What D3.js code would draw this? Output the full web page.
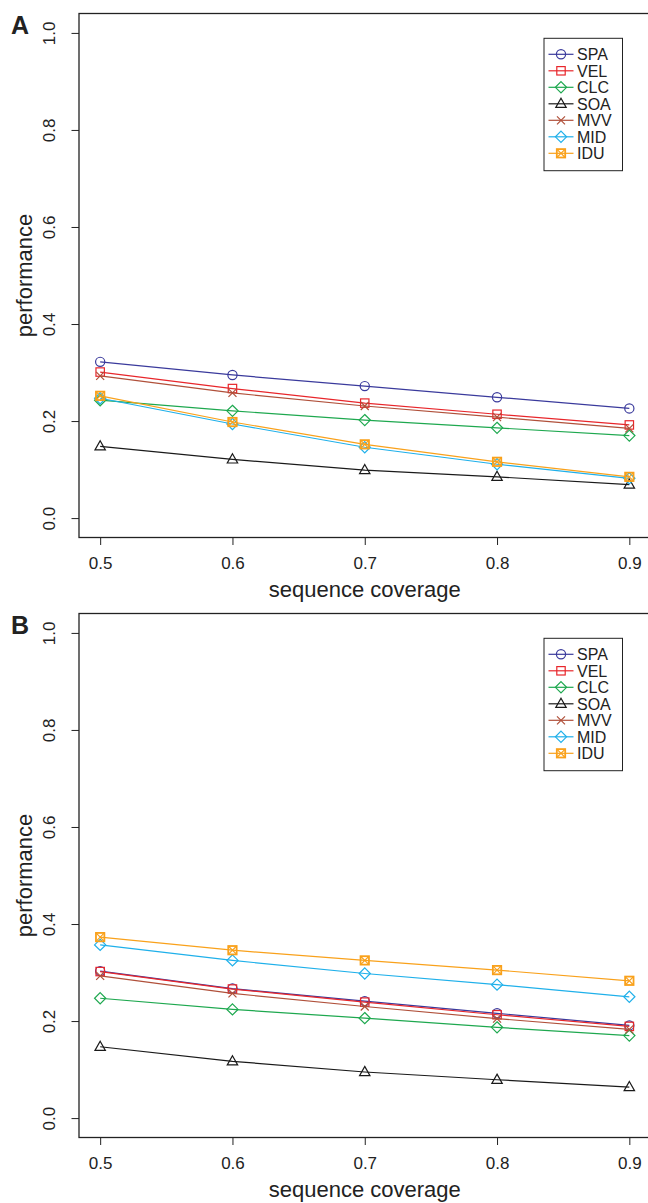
<!DOCTYPE html>
<html>
<head>
<meta charset="utf-8">
<script src="https://cdn.jsdelivr.net/npm/d3@7"></script>
<style>
  html, body { margin: 0; padding: 0; background: #fff; }
  svg { display: block; }
  text { font-family: "Liberation Sans", Arial, Helvetica, sans-serif; fill: #222; }
</style>
</head>
<body>
<svg id="chart" width="648" height="1203"></svg>
<script>
// x positions shared by both panels
const coverage = [0.5, 0.6, 0.7, 0.8, 0.9];
const xTicks = [0.5, 0.6, 0.7, 0.8, 0.9];
const yTicks = [0.0, 0.2, 0.4, 0.6, 0.8, 1.0];

const methods = ["SPA", "VEL", "CLC", "SOA", "MVV", "MID", "IDU"];
const methodColors = ["#3a3a9c", "#e8262b", "#1ea84f", "#1a1a1a", "#b0503a", "#1fb0ea", "#f9a11b"];
const methodShapes = ["circle", "square", "diamond", "triangle", "cross", "diamond", "squarecross"];

// panel A performance per method
const spaA = [0.322, 0.295, 0.272, 0.249, 0.226];
const velA = [0.301, 0.267, 0.237, 0.214, 0.192];
const clcA = [0.243, 0.221, 0.202, 0.186, 0.170];
const soaA = [0.148, 0.121, 0.099, 0.085, 0.069];
const mvvA = [0.293, 0.258, 0.231, 0.208, 0.185];
const midA = [0.247, 0.194, 0.146, 0.111, 0.082];
const iduA = [0.252, 0.198, 0.152, 0.116, 0.085];

// panel B performance per method
const spaB = [0.303, 0.267, 0.241, 0.216, 0.191];
const velB = [0.302, 0.266, 0.239, 0.213, 0.189];
const clcB = [0.247, 0.224, 0.206, 0.187, 0.170];
const soaB = [0.147, 0.117, 0.095, 0.079, 0.064];
const mvvB = [0.293, 0.257, 0.230, 0.205, 0.183];
const midB = [0.357, 0.325, 0.298, 0.275, 0.250];
const iduB = [0.373, 0.346, 0.325, 0.305, 0.283];

const panels = [
  { label: "A", top: 0, series: [spaA, velA, clcA, soaA, mvvA, midA, iduA] },
  { label: "B", top: 600, series: [spaB, velB, clcB, soaB, mvvB, midB, iduB] }
];

const svg = d3.select("#chart");

// plot region geometry (R-style 4% padding around the data range)
const plotLeft = 79, plotRight = 650.5, plotTop = 13.5, plotBottom = 537.5;

const x = d3.scaleLinear().domain([0.484, 0.916]).range([plotLeft, plotRight]);
const y = d3.scaleLinear().domain([-0.04, 1.04]).range([plotBottom, plotTop]);

function drawMarker(g, shape, color) {
  const s = g.append("g").attr("fill", "none").attr("stroke", color).attr("stroke-width", 1.2);
  if (shape === "circle") {
    s.append("circle").attr("r", 4.6);
  } else if (shape === "square") {
    s.append("rect").attr("x", -4.2).attr("y", -4.2).attr("width", 8.4).attr("height", 8.4);
  } else if (shape === "diamond") {
    s.append("path").attr("d", "M0,-5.6L5.6,0L0,5.6L-5.6,0Z");
  } else if (shape === "triangle") {
    s.append("path").attr("d", "M0,-5.6L5.2,3.6L-5.2,3.6Z");
  } else if (shape === "cross") {
    s.append("path").attr("d", "M-4,-4L4,4M-4,4L4,-4");
  } else if (shape === "squarecross") {
    s.append("rect").attr("x", -4.2).attr("y", -4.2).attr("width", 8.4).attr("height", 8.4)
      .attr("stroke-width", 1.8);
    s.append("path").attr("d", "M-4.2,-4.2L4.2,4.2M-4.2,4.2L4.2,-4.2");
  }
}

panels.forEach(p => {
  const g = svg.append("g").attr("transform", `translate(0,${p.top})`);

  // series lines and markers
  const line = d3.line().x((d, i) => x(coverage[i])).y(d => y(d));
  p.series.forEach((vals, k) => {
    const sg = g.append("g");
    sg.append("path")
      .attr("d", line(vals))
      .attr("fill", "none")
      .attr("stroke", methodColors[k])
      .attr("stroke-width", 1.2);
    vals.forEach((v, i) => {
      const m = sg.append("g").attr("transform", `translate(${x(coverage[i])},${y(v)})`);
      drawMarker(m, methodShapes[k], methodColors[k]);
    });
  });

  // frame
  g.append("rect")
    .attr("x", plotLeft).attr("y", plotTop)
    .attr("width", plotRight - plotLeft).attr("height", plotBottom - plotTop)
    .attr("fill", "none").attr("stroke", "#222").attr("stroke-width", 1.3);

  // x axis
  const xa = g.append("g")
    .attr("transform", `translate(0,${plotBottom})`)
    .call(d3.axisBottom(x).tickValues(xTicks).tickFormat(d3.format(".1f")).tickSize(7.5));
  xa.select(".domain").remove();
  xa.selectAll("line").attr("stroke", "#222").attr("stroke-width", 1);
  xa.selectAll("text")
    .attr("y", 31).attr("dy", 0)
    .style("font-size", "17px").style("font-family", "Liberation Sans, Arial, sans-serif")
    .attr("fill", "#222");

  // y axis
  const ya = g.append("g")
    .attr("transform", `translate(${plotLeft},0)`)
    .call(d3.axisLeft(y).tickValues(yTicks).tickFormat(d3.format(".1f")).tickSize(7.5));
  ya.select(".domain").remove();
  ya.selectAll("line").attr("stroke", "#222").attr("stroke-width", 1);
  ya.selectAll("text")
    .attr("x", 0).attr("y", -24).attr("dy", 0)
    .attr("transform", "rotate(-90)")
    .attr("text-anchor", "middle")
    .style("font-size", "17px").style("font-family", "Liberation Sans, Arial, sans-serif")
    .attr("fill", "#222");

  // axis titles
  g.append("text")
    .attr("x", (plotLeft + plotRight) / 2).attr("y", 597)
    .attr("text-anchor", "middle")
    .style("font-size", "22px")
    .text("sequence coverage");
  g.append("text")
    .attr("transform", `translate(32,${(plotTop + plotBottom) / 2}) rotate(-90)`)
    .attr("text-anchor", "middle")
    .style("font-size", "22px")
    .text("performance");

  // panel letter
  g.append("text")
    .attr("x", 11).attr("y", 34)
    .style("font-size", "25px").style("font-weight", "bold")
    .attr("fill", "#111")
    .text(p.label);

  // legend
  const lg = g.append("g");
  lg.append("rect")
    .attr("x", 544).attr("y", 38.3).attr("width", 78.5).attr("height", 132.4)
    .attr("fill", "#fff").attr("stroke", "#222").attr("stroke-width", 1);
  methods.forEach((name, k) => {
    const cy = 54.3 + k * 16.5;
    lg.append("line")
      .attr("x1", 548.5).attr("x2", 573.5).attr("y1", cy).attr("y2", cy)
      .attr("stroke", methodColors[k]).attr("stroke-width", 1.2);
    const m = lg.append("g").attr("transform", `translate(561,${cy})`);
    drawMarker(m, methodShapes[k], methodColors[k]);
    lg.append("text")
      .attr("x", 577).attr("y", cy + 5.8)
      .style("font-size", "16px")
      .text(name);
  });
});
</script>
</body>
</html>
